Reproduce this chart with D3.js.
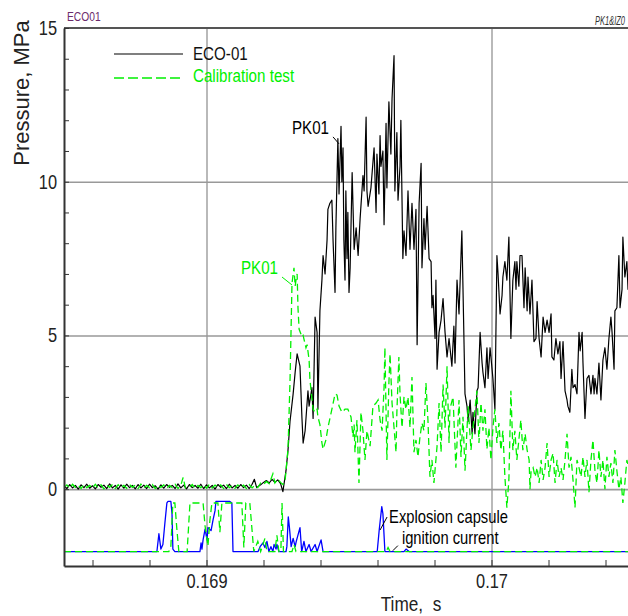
<!DOCTYPE html>
<html>
<head>
<meta charset="utf-8">
<script src="https://cdn.jsdelivr.net/npm/d3@7"></script>
<style>
  html, body { margin: 0; padding: 0; background: #fff; }
  svg { display: block; }
  text { font-family: "Liberation Sans", Arial, sans-serif; }
</style>
</head>
<body>
<svg id="chart" width="628" height="616"></svg>
<script>
// Record start (s); every trace time below is given in microseconds after it.
const recordStart = 0.1685;

const xDomain = [0.1685, 0.1705];
const yDomain = [-2.5, 15];
const xLabelTicks = [0.169, 0.17];
const xMinorTicks = [0.1686, 0.1688, 0.169, 0.1692, 0.1694, 0.1696, 0.1698, 0.17, 0.1702, 0.1704];
const yLabelTicks = [0, 5, 10, 15];
const yGridTicks = [0, 5, 10];
const yMinorTicks = [0, 1, 2, 3, 4, 5, 6, 7, 8, 9, 10, 11, 12, 13, 14, 15];

// ECO-01 pressure, [µs, MPa]
const ecoPressure = [
  [0,0.1],[10,0.02],[20,0.15],[30,0.04],[40,0.12],[50,0.0],[60,0.14],[70,0.05],[80,0.16],[90,0.03],
  [100,0.11],[110,0.01],[120,0.15],[130,0.06],[140,0.13],[150,0.02],[160,0.17],[170,0.04],[180,0.12],[190,0.0],
  [200,0.14],[210,0.03],[220,0.16],[230,0.05],[240,0.12],[250,0.01],[260,0.15],[270,0.04],[280,0.13],[290,0.02],
  [300,0.16],[310,0.05],[320,0.11],[330,0.0],[340,0.14],[350,0.03],[360,0.15],[370,0.06],[380,0.12],[390,0.02],
  [400,0.17],[410,0.04],[420,0.13],[430,0.01],[440,0.15],[450,0.05],[460,0.12],[470,0.03],[480,0.16],[490,0.02],
  [500,0.14],[510,0.04],[520,0.12],[530,0.0],[540,0.15],[550,0.06],[560,0.13],[570,0.02],[580,0.16],[590,0.04],
  [600,0.12],[610,0.03],[620,0.15],[630,0.05],[640,0.13],[650,0.02],[660,0.16],[668,0.32],[676,0.05],[690,0.14],
  [700,0.22],[710,0.28],[720,0.2],[730,0.32],[740,0.22],[750,0.3],[760,0.18],[768,-0.08],
  [779,0.6],[786,1.27],[793,2.2],[804,3.1],[811,3.8],[818,4.4],[828,4.0],[835,2.3],[839,1.5],[846,1.9],
  [856,3.2],[860,2.7],[870,3.3],[874,2.3],[881,5.6],[888,5.1],[891,2.6],[898,5.8],[905,6.8],[909,7.6],
  [916,7.0],[923,8.1],[926,9.1],[933,9.3],[940,9.4],[944,8.1],[951,6.4],[954,8.5],[961,11.4],[965,9.6],
  [972,11.8],[975,10.0],[979,11.1],[982,8.1],[986,6.8],[989,9.7],[993,7.5],[996,9.0],[1000,6.4],[1004,7.2],
  [1011,10.3],[1018,7.8],[1025,8.5],[1032,7.6],[1039,8.8],[1049,10.2],[1053,9.7],[1060,12.1],[1063,9.7],[1067,9.2],
  [1077,9.8],[1088,11.1],[1095,9.0],[1098,10.9],[1105,9.6],[1109,11.5],[1112,10.5],[1119,11.0],[1123,8.6],[1130,11.9],
  [1133,9.8],[1140,12.6],[1147,10.9],[1151,12.7],[1158,14.1],[1161,9.7],[1168,11.6],[1172,9.4],[1179,10.5],[1182,12.0],
  [1189,7.5],[1193,8.4],[1200,7.6],[1207,9.7],[1214,7.8],[1221,9.3],[1228,7.8],[1235,9.1],[1239,4.7],[1246,9.3],
  [1253,10.6],[1256,7.2],[1263,8.8],[1267,7.8],[1274,9.2],[1281,7.5],[1288,7.4],[1291,5.9],[1295,6.3],[1302,4.9],
  [1305,6.8],[1309,3.9],[1316,5.1],[1323,5.5],[1330,6.2],[1337,5.1],[1344,4.3],[1351,4.9],[1361,4.0],[1368,5.3],
  [1372,4.1],[1379,6.8],[1386,5.7],[1396,8.4],[1400,6.5],[1407,3.1],[1414,2.7],[1418,2.2],[1425,2.9],[1432,1.8],
  [1435,2.5],[1442,1.8],[1449,3.2],[1453,3.3],[1460,5.1],[1467,4.1],[1470,3.8],[1477,3.3],[1484,4.6],[1488,3.6],
  [1495,4.6],[1505,3.6],[1512,2.6],[1519,7.6],[1523,7.0],[1530,5.7],[1537,6.3],[1540,6.9],[1547,7.4],[1554,6.8],
  [1561,8.2],[1568,4.9],[1575,6.8],[1582,7.4],[1586,6.5],[1589,7.4],[1596,6.6],[1600,7.6],[1607,7.6],[1614,5.9],
  [1618,7.2],[1625,5.8],[1628,6.9],[1635,5.7],[1642,6.8],[1649,4.8],[1656,4.9],[1660,6.1],[1667,4.9],[1674,4.3],
  [1681,5.6],[1688,5.1],[1695,5.5],[1702,5.1],[1709,5.7],[1712,4.3],[1719,4.2],[1726,4.9],[1733,4.4],[1740,4.8],
  [1744,3.6],[1751,4.8],[1758,3.2],[1765,2.9],[1768,2.7],[1775,2.5],[1782,3.9],[1786,3.3],[1793,3.4],[1800,3.1],
  [1807,5.1],[1811,4.5],[1818,5.1],[1821,4.1],[1828,2.3],[1835,3.6],[1842,3.7],[1849,3.1],[1856,3.7],[1860,3.1],
  [1863,3.6],[1870,3.1],[1877,4.1],[1884,2.9],[1891,4.2],[1898,4.6],[1905,3.9],[1912,4.9],[1919,5.6],[1923,5.1],
  [1930,3.9],[1933,5.8],[1940,5.9],[1947,7.6],[1951,5.9],[1958,6.5],[1961,8.2],[1968,6.9],[1975,7.4],[1979,6.5],
  [1986,6.8]
];

// Calibration test pressure, [µs, MPa]
const calPressure = [
  [0,0.05],[10,0.14],[20,0.03],[30,0.16],[40,0.06],[50,0.13],[60,0.02],[70,0.15],[80,0.05],[90,0.12],
  [100,0.03],[110,0.16],[120,0.04],[130,0.14],[140,0.01],[150,0.13],[160,0.06],[170,0.15],[180,0.02],[190,0.14],
  [200,0.05],[210,0.12],[220,0.03],[230,0.15],[240,0.06],[250,0.13],[260,0.02],[270,0.16],[280,0.04],[290,0.12],
  [300,0.05],[310,0.15],[320,0.02],[330,0.13],[340,0.06],[350,0.14],[360,0.03],[370,0.12],[380,0.05],[390,0.16],
  [400,0.02],[410,0.13],[418,0.38],[426,0.04],[440,0.06],[450,0.15],[460,0.02],[470,0.12],[480,0.05],[490,0.14],
  [500,0.03],[510,0.16],[520,0.04],[530,0.13],[540,0.06],[550,0.14],[560,0.02],[570,0.15],[580,0.05],[590,0.12],
  [600,0.03],[610,0.14],[620,0.05],[630,0.13],[640,0.02],[650,0.15],[660,0.04],[670,0.13],[680,0.05],[690,0.2],
  [700,0.15],[710,0.25],[720,0.18],[733,0.5],[740,0.2],[750,0.32],[760,0.22],[768,0.15],
  [776,0.3],[786,1.3],[793,3.5],[800,6.7],[807,7.2],[811,6.6],[814,6.8],[818,7.0],[821,5.9],[825,5.2],
  [835,4.95],[839,5.0],[849,4.6],[853,4.7],[860,4.2],[863,3.55],[874,2.6],[881,2.5],[888,2.6],[891,2.35],
  [898,2.1],[905,1.5],[909,1.3],[919,1.6],[926,2.0],[940,2.6],[951,3.1],[958,3.06],[965,2.7],[975,2.5],
  [986,2.6],[996,2.6],[1007,2.35],[1014,1.7],[1018,2.1],[1021,1.2],[1028,2.25],[1035,0.2],[1042,2.5],[1049,1.9],
  [1056,0.95],[1063,1.9],[1074,1.4],[1084,2.7],[1095,2.8],[1102,2.9],[1109,2.25],[1116,1.9],[1123,3.3],[1126,4.6],
  [1133,0.95],[1140,3.45],[1144,4.4],[1151,2.8],[1158,2.0],[1165,1.2],[1168,2.5],[1175,4.3],[1179,3.1],[1186,2.0],
  [1193,3.0],[1200,2.6],[1207,3.0],[1214,2.0],[1221,3.65],[1228,1.2],[1235,1.6],[1242,1.05],[1249,1.7],[1256,2.15],
  [1263,1.9],[1270,3.45],[1277,2.25],[1284,0.4],[1291,0.95],[1298,0.2],[1309,1.4],[1316,2.8],[1323,1.2],[1330,3.4],
  [1337,2.0],[1344,4.0],[1351,1.5],[1354,2.6],[1365,3.0],[1375,0.7],[1386,2.9],[1393,1.05],[1400,2.35],[1407,0.6],
  [1418,2.7],[1428,1.27],[1435,2.0],[1449,3.2],[1456,1.5],[1463,2.8],[1470,1.9],[1477,2.6],[1484,1.3],[1491,2.0],
  [1498,0.95],[1505,2.0],[1512,2.6],[1519,1.5],[1526,2.15],[1533,1.27],[1540,1.9],[1547,0.4],[1554,-0.6],[1561,0.3],
  [1568,3.2],[1575,1.27],[1582,1.9],[1589,0.95],[1596,1.6],[1603,2.25],[1610,1.27],[1618,1.8],[1625,1.27],[1632,0.95],
  [1635,0.0],[1639,0.6],[1646,0.7],[1653,0.4],[1660,0.7],[1667,0.2],[1674,0.95],[1681,0.3],[1688,0.7],[1695,1.5],
  [1702,0.4],[1709,0.95],[1716,1.17],[1723,0.2],[1730,0.95],[1737,0.4],[1744,0.7],[1751,0.3],[1758,0.95],[1765,1.8],
  [1772,0.7],[1779,1.05],[1786,0.3],[1793,-0.6],[1800,0.95],[1807,0.7],[1814,0.4],[1821,1.05],[1828,0.4],[1835,0.95],
  [1842,-0.1],[1849,0.95],[1856,1.6],[1863,0.6],[1870,0.2],[1877,1.27],[1884,0.4],[1891,0.95],[1898,0.0],[1905,1.05],
  [1912,0.4],[1919,0.85],[1926,0.2],[1933,1.27],[1940,0.6],[1947,0.0],[1954,0.4],[1961,-0.45],[1968,0.2],[1975,0.95],
  [1986,0.5]
];

// Explosion capsule ignition current (ECO-01 run), [µs, scaled level]
const ecoIgnition = [
  [0,-2.03],[326,-2.03],[333,-1.45],[340,-1.95],[347,-1.8],[354,-1.1],[361,-0.45],[365,-0.4],[375,-0.4],[379,-0.8],
  [382,-1.95],[389,-2.03],[477,-2.03],[481,-1.75],[484,-1.95],[488,-1.65],[495,-1.3],[502,-1.65],[505,-1.25],[516,-1.35],
  [523,-1.0],[530,-0.7],[533,-0.4],[582,-0.4],[589,-0.45],[593,-2.03],[681,-2.03],[688,-1.87],[698,-1.75],[705,-1.9],
  [712,-1.7],[719,-2.03],[726,-1.87],[733,-2.03],[737,-1.8],[744,-1.95],[747,-1.8],[754,-2.03],[779,-2.03],[782,-1.87],
  [787,-0.9],[791,-1.25],[797,-1.87],[804,-1.6],[811,-1.87],[815,-1.7],[828,-1.25],[834,-2.03],[842,-1.7],[849,-2.03],
  [860,-1.8],[867,-2.03],[881,-1.8],[888,-2.03],[902,-1.65],[909,-2.03],[1099,-2.03],[1106,-1.33],[1115,-0.57],[1119,-0.8],
  [1126,-2.03],[1193,-2.03],[1200,-1.95],[1211,-2.03],[1990,-2.03]
];

// Explosion capsule ignition current (calibration run), [µs, scaled level]
const calIgnition = [
  [0,-2.03],[368,-2.03],[375,-1.85],[382,-0.45],[389,-0.45],[396,-1.3],[403,-2.03],[432,-2.03],[442,-0.45],[488,-0.45],
  [495,-1.2],[505,-1.85],[512,-1.0],[519,-0.45],[540,-0.45],[547,-1.4],[554,-0.45],[624,-0.45],[631,-1.9],[638,-0.45],
  [652,-0.45],[666,-2.03],[680,-1.7],[690,-2.03],[705,-1.6],[712,-2.03],[740,-2.03],[747,-1.5],[754,-2.03],[761,-2.0],
  [765,-0.45],[770,-2.03],[800,-2.03],[807,-1.8],[814,-2.03],[1130,-2.03],[1137,-1.9],[1144,-2.03],[1990,-2.03]
];

const seriesNames = ["ECO-01", "Calibration test"];
const ecoColor = "#000000";
const calColor = "#00f000";
const currentColor = "#0000ff";

// Callouts: anchor point in data units plus text
const callouts = [
  { t: 0.169465, v: 11.23, text: "PK01", color: "#000", lead: [-6, -7], label: [-10, -10], anchor: "end" },
  { t: 0.1693, v: 6.64, text: "PK01", color: calColor, lead: [-10, -8], label: [-14, -11], anchor: "end" },
  { t: 0.169609, v: -1.33, text: "Explosion capsule", color: "#000", lead: [7, -13], label: [9, -7], anchor: "start" },
  { t: 0.169654, v: -2.0, text: "ignition current", color: "#000", lead: [5, -5], label: [9, -7], anchor: "start" }
];

const plotL = 64, plotR = 634, plotT = 28, plotB = 566;
const NARROW = 0.82;   // horizontal squeeze giving a narrow sans face

// squeeze text horizontally while keeping its anchor point in place
function narrow(sel, k = NARROW) {
  sel.each(function () {
    const t = d3.select(this);
    const tx = +(t.attr("x") || 0);
    const base = t.attr("transform") || "";
    t.attr("x", tx / k).attr("transform", `${base} scale(${k},1)`.trim());
  });
  return sel;
}

const svg = d3.select("#chart");

const x = d3.scaleLinear().domain(xDomain).range([plotL, plotR]);
const y = d3.scaleLinear().domain(yDomain).range([plotB, plotT]);

svg.append("defs").append("clipPath").attr("id", "plot-clip")
  .append("rect").attr("x", plotL).attr("y", plotT).attr("width", plotR - plotL).attr("height", plotB - plotT);

// grid
const gridX = svg.append("g").attr("transform", `translate(0,${plotB})`)
  .call(d3.axisBottom(x).tickValues(xLabelTicks).tickSize(-(plotB - plotT)).tickFormat(""));
gridX.select(".domain").remove();
gridX.selectAll("line").attr("stroke", "#8a8a8a").attr("stroke-width", 1.2);

const gridY = svg.append("g").attr("transform", `translate(${plotL},0)`)
  .call(d3.axisLeft(y).tickValues(yGridTicks).tickSize(-(plotR - plotL)).tickFormat(""));
gridY.select(".domain").remove();
gridY.selectAll("line").attr("stroke", "#999").attr("stroke-width", 1.6);

// top frame
svg.append("line").attr("x1", plotL).attr("x2", plotR).attr("y1", y(15)).attr("y2", y(15))
  .attr("stroke", "#555").attr("stroke-width", 2);

// traces
const line = d3.line()
  .x(d => x(recordStart + d[0] * 1e-6))
  .y(d => y(d[1]));

const traces = svg.append("g").attr("clip-path", "url(#plot-clip)");
traces.append("path").datum(ecoIgnition).attr("d", line)
  .attr("fill", "none").attr("stroke", currentColor).attr("stroke-width", 1.3).attr("stroke-linejoin", "round");
traces.append("path").datum(ecoPressure).attr("d", line)
  .attr("fill", "none").attr("stroke", ecoColor).attr("stroke-width", 1.2).attr("stroke-linejoin", "round");
traces.append("path").datum(calIgnition).attr("d", line)
  .attr("fill", "none").attr("stroke", calColor).attr("stroke-width", 1.3).attr("stroke-dasharray", "7,4");
traces.append("path").datum(calPressure).attr("d", line)
  .attr("fill", "none").attr("stroke", calColor).attr("stroke-width", 1.3).attr("stroke-dasharray", "7,4");

// axes with inward ticks
const axL = svg.append("g").attr("transform", `translate(${plotL},0)`)
  .call(d3.axisLeft(y).tickValues(yMinorTicks).tickSize(-5).tickSizeOuter(0).tickFormat(""));
axL.select(".domain").attr("stroke", "#333").attr("stroke-width", 2);
axL.selectAll(".tick line").attr("stroke", "#333").attr("stroke-width", 1);

const axB = svg.append("g").attr("transform", `translate(0,${plotB})`)
  .call(d3.axisBottom(x).tickValues(xMinorTicks).tickSize(-6).tickSizeOuter(0).tickFormat(""));
axB.select(".domain").attr("stroke", "#333").attr("stroke-width", 2);
axB.selectAll(".tick line").attr("stroke", "#333").attr("stroke-width", 1);

// tick labels
const labL = svg.append("g").attr("transform", `translate(${plotL},0)`)
  .call(d3.axisLeft(y).tickValues(yLabelTicks).tickSize(0).tickPadding(7).tickFormat(d3.format("d")));
labL.select(".domain").remove();
labL.attr("font-family", null).attr("font-size", null);
narrow(labL.selectAll("text").style("font-size", "20px").attr("fill", "#222"));

const labB = svg.append("g").attr("transform", `translate(0,${plotB})`)
  .call(d3.axisBottom(x).tickValues(xLabelTicks).tickSize(0).tickPadding(8).tickFormat(d => String(d)));
labB.select(".domain").remove();
labB.attr("font-family", null).attr("font-size", null);
narrow(labB.selectAll("text").style("font-size", "20px").attr("fill", "#222"));

// axis titles
narrow(svg.append("text").attr("x", 411).attr("y", 611).attr("text-anchor", "middle")
  .style("font-size", "21px").style("white-space", "pre").attr("fill", "#222").text("Time,  s"));
svg.append("text").attr("transform", "translate(29,93) rotate(-90)").attr("text-anchor", "middle")
  .style("font-size", "22px").attr("fill", "#222").text("Pressure, MPa");

// corner tags
narrow(svg.append("text").attr("x", 67).attr("y", 21).style("font-size", "12.5px").attr("fill", "#6b2a6b").text("ECO01"));
narrow(svg.append("text").attr("x", 595).attr("y", 25).style("font-size", "12.5px").style("font-style", "italic")
  .attr("fill", "#333").text("PK1&IZ0"), 0.6);

// legend
const legend = svg.append("g");
legend.append("line").attr("x1", 114).attr("x2", 183).attr("y1", 54).attr("y2", 54)
  .attr("stroke", ecoColor).attr("stroke-width", 1.2);
narrow(legend.append("text").attr("x", 193).attr("y", 60).style("font-size", "18.5px").attr("fill", "#111").text(seriesNames[0]));
legend.append("line").attr("x1", 114).attr("x2", 183).attr("y1", 78).attr("y2", 78)
  .attr("stroke", calColor).attr("stroke-width", 1.3).attr("stroke-dasharray", "10,4");
narrow(legend.append("text").attr("x", 193).attr("y", 82).style("font-size", "18.5px").attr("fill", calColor).text(seriesNames[1]));

// callouts
callouts.forEach(c => {
  const px = x(c.t), py = y(c.v);
  svg.append("line").attr("x1", px + c.lead[0]).attr("y1", py + c.lead[1]).attr("x2", px).attr("y2", py)
    .attr("stroke", c.color).attr("stroke-width", 1);
  narrow(svg.append("text").attr("x", px + c.label[0]).attr("y", py + c.label[1]).attr("text-anchor", c.anchor)
    .style("font-size", c.anchor === "end" ? "18.5px" : "18px").attr("fill", c.color).text(c.text));
});
</script>
</body>
</html>
